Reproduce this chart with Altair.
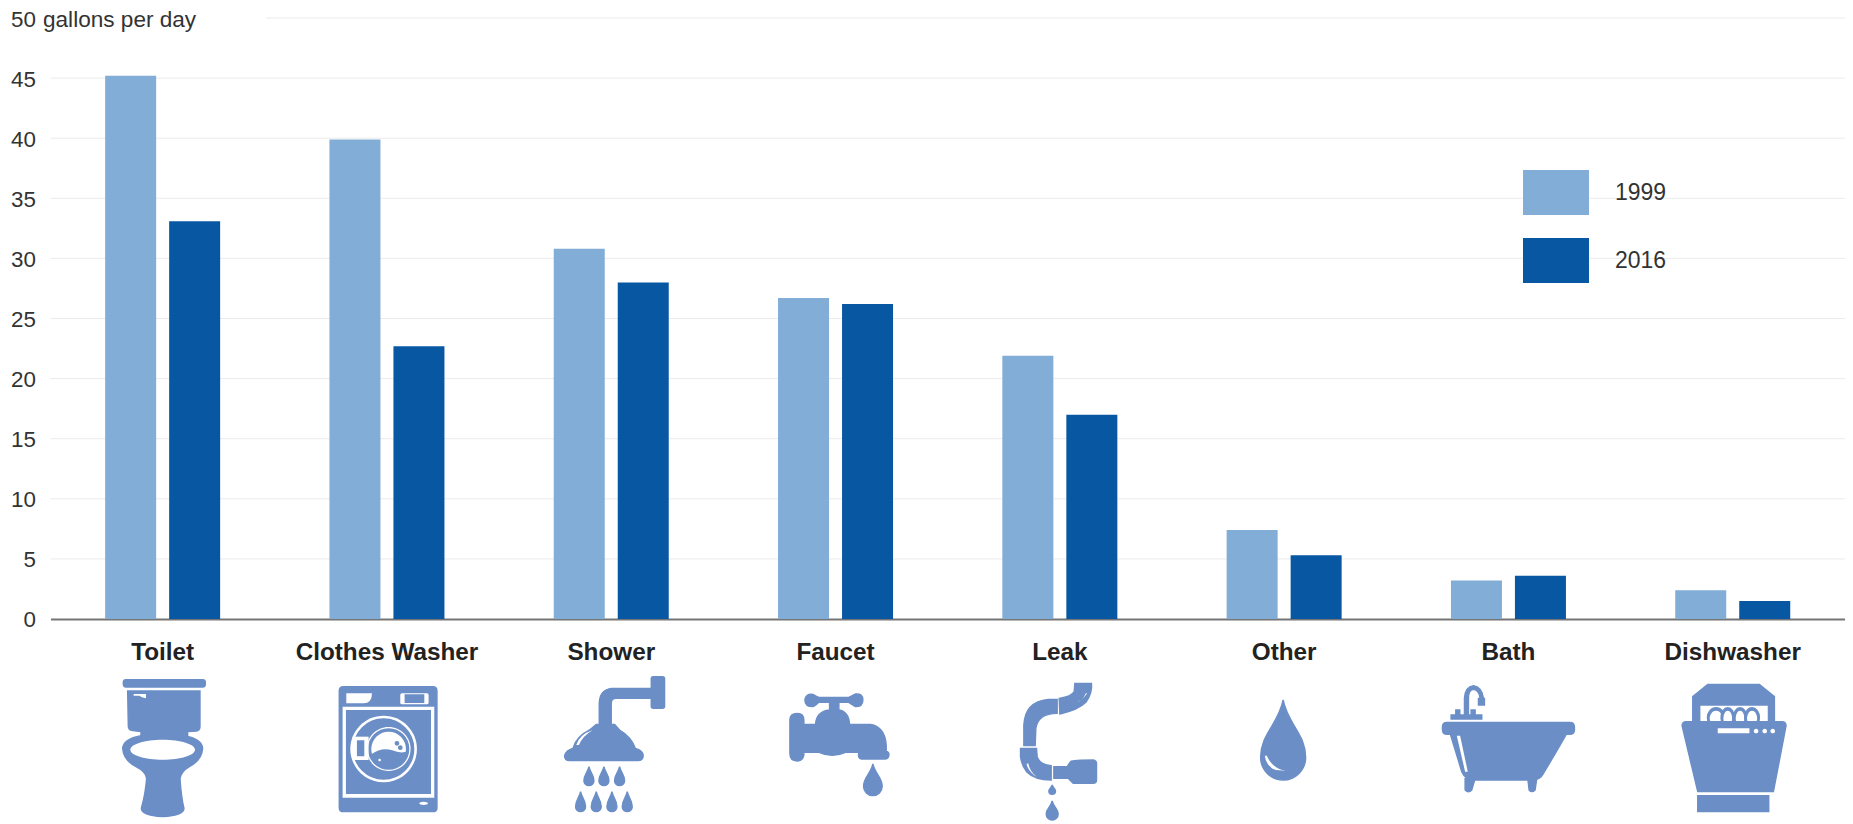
import re
import altair as alt
import pandas as pd

FONT = "Liberation Sans"
categories = ["Toilet", "Clothes Washer", "Shower", "Faucet", "Leak", "Other", "Bath", "Dishwasher"]
values_1999 = [45.2, 39.9, 30.8, 26.7, 21.9, 7.4, 3.2, 2.4]
values_2016 = [33.1, 22.7, 28.0, 26.2, 17.0, 5.3, 3.6, 1.5]
years = ["1999", "2016"]
year_colors = ["#81ADD6", "#0757A3"]
grid_values = [5, 10, 15, 20, 25, 30, 35, 40, 45]
y_ticks = [0, 5, 10, 15, 20, 25, 30, 35, 40, 45, 50]
unit_label = "gallons per day"
BLUE = "#6B8EC7"
WHITE = "#FFFFFF"


def rect(x0, y0, x1, y1):
    return f"M{x0} {y0} L{x1} {y0} L{x1} {y1} L{x0} {y1} Z"


def rrect(x0, y0, x1, y1, r):
    return (f"M{x0+r} {y0} L{x1-r} {y0} Q{x1} {y0} {x1} {y0+r} L{x1} {y1-r} Q{x1} {y1} {x1-r} {y1} "
            f"L{x0+r} {y1} Q{x0} {y1} {x0} {y1-r} L{x0} {y0+r} Q{x0} {y0} {x0+r} {y0} Z")


def ell(cx, cy, rx, ry=None):
    ry = rx if ry is None else ry
    k = 0.5523
    return (f"M{cx-rx} {cy} C{cx-rx} {cy-k*ry} {cx-k*rx} {cy-ry} {cx} {cy-ry} "
            f"C{cx+k*rx} {cy-ry} {cx+rx} {cy-k*ry} {cx+rx} {cy} "
            f"C{cx+rx} {cy+k*ry} {cx+k*rx} {cy+ry} {cx} {cy+ry} "
            f"C{cx-k*rx} {cy+ry} {cx-rx} {cy+k*ry} {cx-rx} {cy} Z")


def drop(cx, top, bot, w):
    r = w / 2
    h = bot - top
    return (f"M{cx} {top} C{cx+.2*r} {top+.3*h} {cx+r} {top+.42*h} {cx+r} {bot-r} "
            f"C{cx+r} {bot-.45*r} {cx+.55*r} {bot} {cx} {bot} "
            f"C{cx-.55*r} {bot} {cx-r} {bot-.45*r} {cx-r} {bot-r} "
            f"C{cx-r} {top+.42*h} {cx-.2*r} {top+.3*h} {cx} {top} Z")


# Icon outlines, drawn in a 480-unit box; each entry is (colour, outline), painted in order.
icons = {
    "Toilet": [
        (BLUE, rrect(122, 44, 368, 66, 8)),
        (BLUE, "M135 78 L352 78 L352 185 Q352 195 342 198 L315 200 L315 215 L175 215 L175 200 L150 197 Q137 195 137 183 Z"),
        (BLUE, "M120 250 Q122 222 175 212 L305 212 Q358 222 360 250 Q358 285 320 305 Q295 320 292 340 Q296 400 304 430 Q304 452 240 455 Q176 452 176 430 Q188 390 192 340 Q190 320 160 305 Q122 285 120 250 Z"),
        (WHITE, ell(240, 254, 97, 30)),
        (WHITE, "M153 87 L190 87 L190 100 L178 97 L170 92 L153 92 Z"),
    ],
    "Clothes Washer": [
        (BLUE, rrect(97, 65, 390, 440, 12)),
        (WHITE, "M118 85 L195 85 Q195 115 170 115 L118 115 Z"),
        (WHITE, rrect(280, 85, 365, 118, 5)),
        (BLUE, rect(295, 90, 350, 112)),
        (WHITE, rect(107, 125, 382, 398)),
        (BLUE, rect(119, 137, 370, 385)),
        (WHITE, ell(230, 252, 100)),
        (BLUE, ell(230, 252, 90)),
        (WHITE, ell(245, 252, 66)),
        (BLUE, ell(245, 252, 60)),
        (WHITE, ell(245, 252, 52)),
        (BLUE, "M193 270 Q225 248 255 258 Q280 268 298 262 Q295 300 245 305 Q205 303 193 270 Z"),
        (WHITE, rect(137, 215, 185, 285)),
        (BLUE, rect(152, 228, 170, 272)),
        (WHITE, ell(218, 285, 4)),
        (BLUE, ell(270, 235, 5)),
        (BLUE, ell(280, 248, 5)),
        (WHITE, ell(350, 415, 13, 5)),
    ],
    "Shower": [
        (BLUE, rrect(360, 35, 400, 130, 6)),
        (BLUE, "M362 70 L240 70 Q205 75 204 115 L204 185 L240 185 L240 115 Q240 100 255 100 L362 100 Z"),
        (BLUE, "M100 272 Q105 255 125 250 Q135 215 175 195 L195 178 L250 178 L265 195 Q300 215 312 250 Q335 255 336 272 Q335 287 320 287 L115 287 Q100 287 100 272 Z"),
        (WHITE, "M135 240 Q145 208 185 195 Q155 212 143 240 Z"),
        (BLUE, drop(173, 305, 362, 30)),
        (BLUE, drop(218, 305, 362, 30)),
        (BLUE, drop(265, 305, 362, 30)),
        (BLUE, drop(148, 380, 440, 30)),
        (BLUE, drop(195, 380, 440, 30)),
        (BLUE, drop(242, 380, 440, 30)),
        (BLUE, drop(288, 380, 440, 30)),
    ],
    "Faucet": [
        (BLUE, "M148 105 Q150 85 172 88 Q182 95 190 97 L280 97 Q290 92 300 87 Q322 85 322 105 Q322 125 300 125 Q288 118 280 112 L250 112 L250 135 Q280 140 282 178 L345 178 Q388 185 392 240 L392 258 Q402 262 400 272 Q398 282 388 282 L318 282 Q305 280 310 262 L270 262 Q230 280 190 262 L145 262 L145 270 Q142 288 125 288 Q103 288 103 265 L103 165 Q103 145 125 145 Q145 145 145 165 L145 178 L180 178 Q182 140 222 135 L222 112 L190 112 Q180 122 172 125 Q148 125 148 105 Z"),
        (BLUE, drop(352, 297, 392, 56)),
    ],
    "Leak": [
        (BLUE, "M285 55 L335 55 Q338 85 318 112 Q295 135 240 147 L238 100 Q275 95 283 80 Z"),
        (WHITE, "M318 85 Q310 110 270 120 Q305 112 322 85 Z"),
        (BLUE, "M232 103 L232 145 Q175 145 168 190 L166 242 L132 242 L132 180 Q135 110 205 103 Z"),
        (BLUE, "M122 250 L170 250 L172 275 Q180 300 214 302 L214 345 Q165 345 140 320 Q125 300 122 275 Z"),
        (WHITE, "M145 295 Q150 320 170 335 L165 332 Q145 318 140 297 Z"),
        (BLUE, "M222 305 L262 305 L272 290 Q280 285 340 285 Q350 287 350 295 L350 345 Q350 355 340 355 L280 355 L265 340 L222 340 Z"),
        (BLUE, drop(217, 360, 388, 20)),
        (BLUE, drop(217, 408, 465, 36)),
    ],
    "Other": [
        (BLUE, drop(237, 105, 345, 135)),
        (WHITE, "M182 272 Q186 305 215 315 L245 317 Q205 312 188 272 Z"),
    ],
    "Bath": [
        (BLUE, "M108 150 L108 100 Q110 65 135 62 Q160 65 165 100 L155 100 Q152 75 135 73 Q120 75 120 100 L120 150 Z"),
        (BLUE, rect(150, 100, 168, 120)),
        (BLUE, rect(82, 135, 94, 155)),
        (BLUE, rect(128, 135, 140, 155)),
        (BLUE, rect(68, 150, 160, 162)),
        (BLUE, rrect(42, 172, 438, 208, 14)),
        (BLUE, "M65 205 L415 205 Q390 250 345 325 Q335 345 310 345 L140 345 Q110 345 100 320 Z"),
        (BLUE, "M110 340 L140 340 L130 375 Q120 385 110 375 Z"),
        (BLUE, "M298 340 L325 340 L320 375 Q310 385 302 375 Z"),
        (WHITE, "M85 212 L95 212 L118 320 L110 320 Z"),
    ],
    "Dishwasher": [
        (BLUE, "M165 58 L320 58 L365 95 L365 172 L120 172 L120 95 Z"),
        (WHITE, rect(143, 122, 345, 172)),
        (BLUE, ell(190, 158, 26, 30)), (WHITE, ell(190, 160, 19, 23)),
        (BLUE, ell(225, 158, 20, 30)), (WHITE, ell(225, 160, 13, 23)),
        (BLUE, ell(262, 158, 20, 30)), (WHITE, ell(262, 160, 13, 23)),
        (BLUE, ell(298, 158, 22, 30)), (WHITE, ell(298, 160, 15, 23)),
        (BLUE, "M98 170 L390 170 Q400 172 400 182 L362 380 L135 380 L88 182 Q88 172 98 170 Z"),
        (WHITE, rect(195, 190, 290, 205)),
        (WHITE, ell(310, 198, 7)), (WHITE, ell(336, 198, 7)), (WHITE, ell(360, 198, 7)),
        (BLUE, rect(135, 392, 348, 440)),
    ],
}


def centred(path):
    """Move an outline so that the box centre (240, 240) is the mark's anchor."""

    def shift(m):
        return f"{float(m.group(0)) - 240:.1f}"

    return re.sub(r"-?\d+\.?\d*", shift, path)


bars = pd.DataFrame(
    [{"category": c, "year": "1999", "value": v} for c, v in zip(categories, values_1999)]
    + [{"category": c, "year": "2016", "value": v} for c, v in zip(categories, values_2016)]
)
icon_rows = pd.DataFrame(
    [
        {
            "category": c,
            "shape": centred(p),
            "fill": col,
            "edge": col if col == BLUE else "transparent",
            "order": i,
        }
        for c in categories
        for i, (col, p) in enumerate(icons[c])
    ]
)

PLOT_W, PLOT_H = 1794.4, 601
x_scale = alt.Scale(domain=categories, paddingInner=0, paddingOuter=0)
y_scale = alt.Scale(domain=[0, 50], nice=False)
x_axis = alt.Axis(
    labelAngle=0,
    labelFont=FONT,
    labelFontSize=24.3,
    labelFontWeight="bold",
    labelColor="#222222",
    labelPadding=22,
    labelLimit=400,
    ticks=False,
    grid=False,
    domainColor="#757575",
    domainWidth=2,
    title=None,
)
y_axis = alt.Axis(
    values=y_ticks,
    grid=False,
    ticks=False,
    domain=False,
    labelFont=FONT,
    labelFontSize=22.4,
    labelColor="#333333",
    labelPadding=15,
    labelOffset=1,
    title=None,
)

grid = alt.Chart(pd.DataFrame({"v": grid_values})).mark_rule(color="#EBEBEB", strokeWidth=1).encode(
    y=alt.Y("v:Q", scale=y_scale, axis=y_axis)
)
grid_top = alt.Chart(pd.DataFrame({"v": [50]})).mark_rule(color="#EBEBEB", strokeWidth=1).encode(
    y=alt.Y("v:Q", scale=y_scale, axis=y_axis),
    x=alt.value(215.5),
    x2=alt.value(PLOT_W),
)

bar_layer = alt.Chart(bars).mark_bar(cornerRadius=0).encode(
    x=alt.X("category:N", sort=categories, scale=x_scale, axis=x_axis),
    xOffset=alt.XOffset("year:N", sort=years, scale=alt.Scale(paddingInner=0.203, paddingOuter=0.854)),
    y=alt.Y("value:Q", scale=y_scale, axis=y_axis),
    fill=alt.Fill(
        "year:N",
        scale=alt.Scale(domain=years, range=year_colors),
        legend=alt.Legend(
            orient="none",
            legendX=1472.5,
            legendY=141.5,
            title=None,
            symbolType="M-1 -0.68 L1 -0.68 L1 0.68 L-1 0.68 Z",
            symbolSize=4356,
            symbolStrokeWidth=0,
            labelFont=FONT,
            labelFontSize=23,
            labelColor="#333333",
            labelOffset=26,
            rowPadding=12,
            padding=0,
        ),
    ),
)

unit = alt.Chart(pd.DataFrame({"v": [50], "t": [unit_label]})).mark_text(
    align="left", baseline="middle", font=FONT, fontSize=22.6, color="#333333", dy=2
).encode(
    x=alt.value(-7.5),
    y=alt.Y("v:Q", scale=y_scale, axis=y_axis),
    text="t:N",
)

icon_layer = alt.Chart(icon_rows).mark_point(filled=True, opacity=1, strokeWidth=1.4).encode(
    x=alt.X("category:N", sort=categories, scale=x_scale, axis=x_axis),
    y=alt.value(727),
    shape=alt.Shape("shape:N", scale=None, legend=None),
    fill=alt.Fill("fill:N", scale=None, legend=None),
    stroke=alt.Stroke("edge:N", scale=None, legend=None),
    size=alt.value(4 / 9),
    order=alt.Order("order:Q"),
)

chart = (
    alt.layer(grid, grid_top, bar_layer, unit, icon_layer)
    .resolve_scale(fill="independent")
    .properties(
        width=PLOT_W,
        height=PLOT_H,
        padding={"left": 42.5, "top": 10, "right": 0, "bottom": 203},
        autosize=alt.AutoSizeParams(type="none", contains="content"),
        background="#FFFFFF",
    )
    .configure_view(stroke=None)
)

chart.save("out.html", embed_options={"renderer": "svg", "actions": False})
